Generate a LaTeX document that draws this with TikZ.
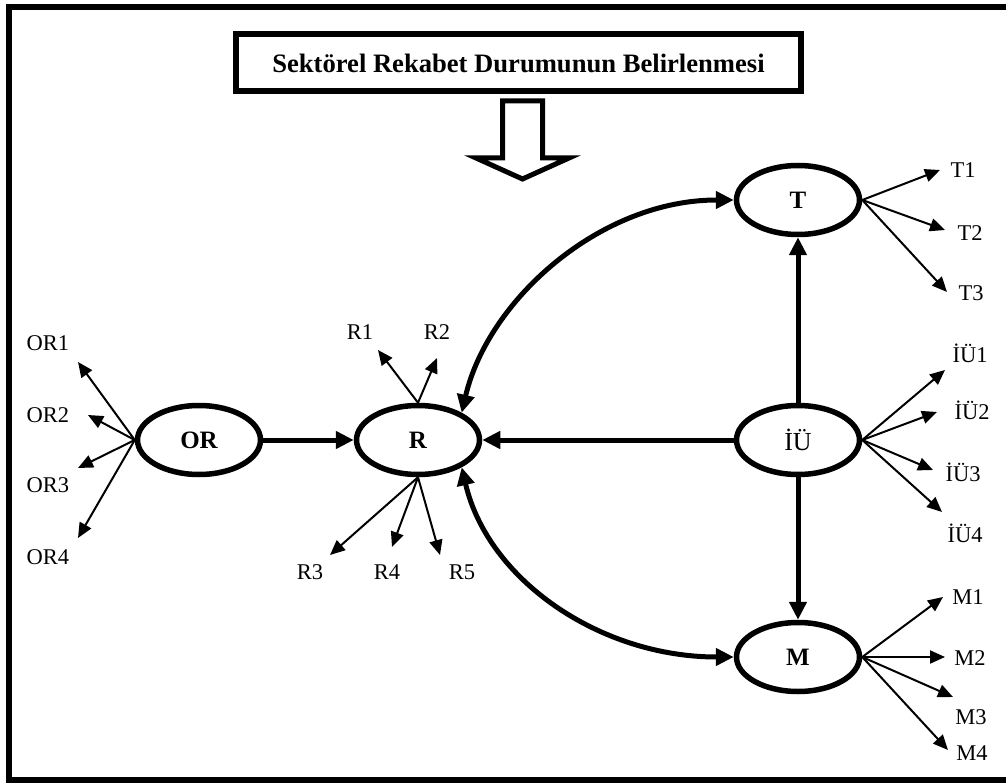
\documentclass[tikz,border=0pt]{standalone}
\usepackage{fontspec}
\setmainfont{Liberation Serif}
\usetikzlibrary{arrows.meta,shapes.geometric}

\begin{document}
\begin{tikzpicture}[x=1pt,y=-1pt,
  factor/.style={ellipse,draw,line width=5.5pt,minimum width=123pt,minimum height=69pt,inner sep=0pt,
                 font=\fontsize{25}{28}\selectfont\bfseries},
  lbl/.style={inner sep=0pt,font=\fontsize{22.5}{26}\selectfont},
  ind/.style={line width=2pt,-{Triangle[length=15pt,width=13pt]}},
  main/.style={line width=5pt,-{Triangle[length=18pt,width=17pt]}},
  both/.style={line width=5pt,{Triangle[length=18pt,width=17pt]}-{Triangle[length=18pt,width=17pt]}},
]
\useasboundingbox (0,0) rectangle (1006,783);
\clip (0,0) rectangle (1006,783);

% outer frame (open on the right)
\draw[line width=6pt] (1020,7) -- (9,7) -- (9,780) -- (1020,780);

% heading box
\node (title) [draw,line width=6pt,minimum width=565pt,minimum height=57pt,inner sep=0pt,
  font=\fontsize{26.6}{30}\selectfont\bfseries] at (518.5,63) {Sektörel Rekabet Durumunun Belirlenmesi};

% hollow down arrow
\draw[line width=5pt,line join=miter] (502.5,101) -- (502.5,158) -- (476,158) -- (522.5,179)
  -- (569,158) -- (542.5,158) -- (542.5,101) -- cycle;

% factors
\node (OR) [factor] at (199,440) {OR};
\node (R)  [factor] at (418,440) {R};
\node (T)  [factor] at (798,200) {T};
\node (IU) [factor,font=\fontsize{26}{28}\selectfont] at (798,440) {İÜ};
\node (M)  [factor] at (798,657) {M};

% relations between factors
\draw[main] (OR.east) -- (R.west);
\draw[main] (IU.west) -- (R.east);
\draw[main] (IU.north) -- (T.south);
\draw[main] (IU.south) -- (M.north);
\draw[both] (R.32) .. controls (488,300) and (600,200) .. (T.west);
\draw[both] (R.-32) .. controls (488,580) and (600,657) .. (M.west);

% OR indicators
\coordinate (or1) at (78,362); \coordinate (or2) at (88,415);
\coordinate (or3) at (78,468); \coordinate (or4) at (78,538);
\foreach \i in {1,2,3,4} \draw[ind] (OR.west) -- (or\i);
\node (lor1) [lbl] at (48,343) {OR1};
\node (lor2) [lbl] at (48,415) {OR2};
\node (lor3) [lbl] at (48,485) {OR3};
\node (lor4) [lbl] at (48,557) {OR4};

% R indicators
\coordinate (r1) at (378,350); \coordinate (r2) at (437,358);
\coordinate (r3) at (330,555); \coordinate (r4) at (392,547); \coordinate (r5) at (440,555);
\foreach \i in {1,2} \draw[ind] (R.north) -- (r\i);
\foreach \i in {3,4,5} \draw[ind] (R.south) -- (r\i);
\node (lr1) [lbl] at (360,332) {R1};
\node (lr2) [lbl] at (437,332) {R2};
\node (lr3) [lbl] at (310,572) {R3};
\node (lr4) [lbl] at (387,572) {R4};
\node (lr5) [lbl] at (462,572) {R5};

% T indicators
\coordinate (t1) at (940,170); \coordinate (t2) at (945,230); \coordinate (t3) at (947,292);
\foreach \i in {1,2,3} \draw[ind] (T.east) -- (t\i);
\node (lt1) [lbl] at (963,170) {T1};
\node (lt2) [lbl] at (970,233) {T2};
\node (lt3) [lbl] at (971,293) {T3};

% IÜ indicators
\coordinate (iu1) at (945,370); \coordinate (iu2) at (937,412);
\coordinate (iu3) at (933,470); \coordinate (iu4) at (942,512);
\foreach \i in {1,2,3,4} \draw[ind] (IU.east) -- (iu\i);
\node (liu1) [lbl] at (970,353) {İÜ1};
\node (liu2) [lbl] at (972,410) {İÜ2};
\node (liu3) [lbl] at (963,472) {İÜ3};
\node (liu4) [lbl] at (965,533) {İÜ4};

% M indicators
\coordinate (m1) at (943,597); \coordinate (m2) at (945,657);
\coordinate (m3) at (953,697); \coordinate (m4) at (948,750);
\foreach \i in {1,2,3,4} \draw[ind] (M.east) -- (m\i);
\node (lm1) [lbl] at (968,597) {M1};
\node (lm2) [lbl] at (970,658) {M2};
\node (lm3) [lbl] at (971,717) {M3};
\node (lm4) [lbl] at (972,753) {M4};
\end{tikzpicture}
\end{document}
